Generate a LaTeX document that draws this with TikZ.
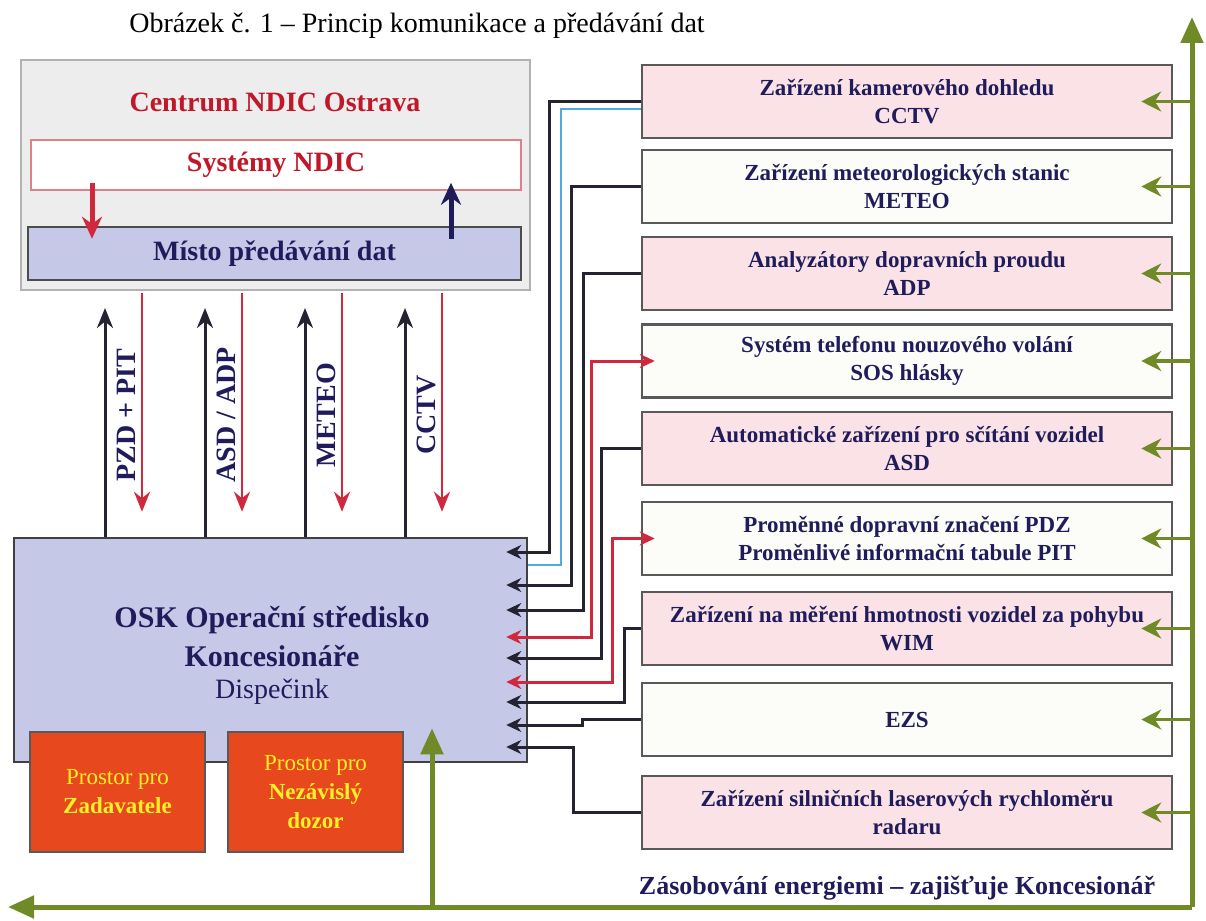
\documentclass[tikz,border=0pt]{standalone}
\usepackage{fontspec}
\setmainfont{Liberation Serif}
\usetikzlibrary{arrows.meta}

\definecolor{ndicred}{RGB}{192,24,40}
\definecolor{navy}{RGB}{32,28,92}
\definecolor{lav}{RGB}{198,200,232}
\definecolor{rose}{RGB}{250,226,230}
\definecolor{offw}{RGB}{252,252,248}
\definecolor{orng}{RGB}{232,72,30}
\definecolor{ylw}{RGB}{255,240,40}
\definecolor{olivegr}{RGB}{112,138,40}
\definecolor{wirered}{RGB}{208,40,60}
\definecolor{wireblk}{RGB}{35,35,50}
\definecolor{cctvblue}{RGB}{80,170,220}

\begin{document}
\begin{tikzpicture}[x=1pt,y=-1pt]
	\useasboundingbox (0,0) rectangle (1206,920);
	
	% --- parametry ---
	\newcommand{\Fbig}{\fontsize{28}{32}\selectfont}
	\newcommand{\Fosk}{\fontsize{30}{34}\selectfont}
	\newcommand{\Fdev}{\fontsize{23}{28}\selectfont}
	\newcommand{\Froom}{\fontsize{23}{29}\selectfont}
	\newcommand{\Fpow}{\fontsize{26}{30}\selectfont}
	
	% --- zarizeni (stred y / vypln / text) ---
	\def\devs{101.5/rose/{Zařízení kamerového dohledu\\CCTV},
		186.5/offw/{Zařízení meteorologických stanic\\METEO},
		273.5/rose/{Analyzátory dopravních proudu\\ADP},
		361/offw/{Systém telefonu nouzového volání\\SOS hlásky},
		448.5/rose/{Automatické zařízení pro sčítání vozidel\\ASD},
		538.5/offw/{Proměnné dopravní značení PDZ\\Proměnlivé informační tabule PIT},
		628.5/rose/{Zařízení na měření hmotnosti vozidel za pohybu\\WIM},
		719.5/offw/{EZS},
		812.5/rose/{Zařízení silničních laserových rychloměru\\radaru}}
	
	% styly
	\tikzset{
		frame/.style  = {draw=black!30, line width=2pt, fill=black!7, minimum width=509pt, minimum height=230pt, inner sep=0pt},
		sysbox/.style = {draw=ndicred!55, line width=1.5pt, fill=white, minimum width=490pt, minimum height=50pt, inner sep=0pt, font=\Fbig\bfseries, text=ndicred},
		dtbox/.style  = {draw=black!70, line width=2.5pt, fill=lav, minimum width=493pt, minimum height=53pt, inner sep=0pt, font=\Fbig\bfseries, text=navy},
		oskbox/.style = {draw=black!75, line width=2.5pt, fill=lav, minimum width=513pt, minimum height=224pt, inner sep=0pt},
		room/.style   = {draw=black!65, line width=2.5pt, fill=orng, minimum width=175pt, minimum height=120pt, inner sep=0pt, align=center, text=ylw, font=\Froom},
		dev/.style    = {draw=black!65, line width=2.5pt, minimum width=530pt, minimum height=73pt, inner sep=0pt, align=center, text=navy, font=\Fdev\bfseries},
		vlab/.style   = {rotate=90, text=navy, font=\Fbig\bfseries},
		upar/.style   = {draw=wireblk, line width=3pt, -{Stealth[length=20pt,width=16pt]}},
		dnar/.style   = {draw=wirered, line width=2.5pt, -{Stealth[length=20pt,width=16pt]}},
		fat/.style    = {line width=5pt, -{Stealth[length=22pt,width=20pt]}},
		wire/.style   = {draw=wireblk, line width=3pt, shorten >=-22pt, -{Stealth[length=15pt,width=14pt]}},
		wirer/.style  = {draw=wirered, line width=3pt, shorten >=-22pt, shorten <=-14pt, {Stealth[length=15pt,width=14pt]}-{Stealth[length=15pt,width=14pt]}},
		pw/.style     = {draw=olivegr, line width=5pt, -{Triangle[length=26pt,width=22pt]}},
		pwin/.style   = {draw=olivegr, line width=3.5pt, -{Stealth[length=20pt,width=20pt]}},
	}
	
	% titulek
	\node[font=\Fbig] (title) at (417,26) {Obrázek č. 1 – Princip komunikace a předávání dat};
	
	% centrum NDIC
	\node[frame] (ndic) at (275.5,175) {};
	\node[font=\Fbig\bfseries, text=ndicred] (ndicl) at (275,102) {Centrum NDIC Ostrava};
	\node[sysbox] (syst) at (276,165) {Systémy NDIC};
	\node[dtbox] (misto) at (274.5,253.5) {Místo předávání dat};
	\draw[dnar, fat] (syst.south -| 92,0) -- (misto.north -| 92,0) [shorten <=-8pt, shorten >=-13pt];
	\draw[upar, fat, draw=navy] (misto.north -| 451,0) -- (syst.south -| 451,0) [shorten <=-13pt, shorten >=-8pt];
	
	% OSK
	\node[oskbox] (osk) at (270.5,650) {};
	\node[font=\Fosk\bfseries, text=navy] (osk1) at (272,620) {OSK Operační středisko};
	\node[font=\Fosk\bfseries, text=navy] (osk2) at (272,656) {Koncesionáře};
	\node[font=\Fbig, text=navy] (osk3) at (272,692) {Dispečink};
	\node[room] (zad) at (117.5,792) {Prostor pro\\\textbf{Zadavatele}};
	\node[room] (dozor) at (315.5,792) {Prostor pro\\\textbf{Nezávislý}\\\textbf{dozor}};
	
	% toky dat NDIC <-> OSK
	\foreach \x/\lab in {105/{PZD + PIT}, 205/{ASD / ADP}, 305/METEO, 405/CCTV} {
		\draw[upar, shorten >=17pt] (osk.north -| \x,0) -- (ndic.south -| \x,0);
		\draw[dnar, shorten <=2pt, shorten >=25pt] (ndic.south -| \x+37,0) -- (osk.north -| \x+37,0);
		\node[vlab] (l\x) at (\x+21,415) {\lab};
	}
	
	% zarizeni
	\foreach \cy/\fc/\txt [count=\i] in \devs {
		\node[dev, fill=\fc] (b\i) at (907,\cy) {\txt};
	}
	
	% kabely do OSK
	\draw[draw=cctvblue, line width=1.5pt] (b1.west |- 0,109) -| (561,565) -- (osk.east |- 0,565);
	\foreach \i/\xv/\yv/\st in {1/549/552/wire, 2/571/585/wire, 3/583/610/wire, 4/591/637/wirer,
		5/601/658/wire, 6/612/682/wirer, 7/624/702/wire, 8/582/725/wire, 9/573/747/wire} {
		\draw[\st] (b\i.west) -| (\xv,\yv) -- (osk.east |- 0,\yv);
	}
	
	% napajeni
	\coordinate (pwC) at (1192,907);
	\coordinate (pwT) at (1192,17);
	\coordinate (pwL) at (8,907);
	\draw[pw] (pwC) -- (pwT);
	\draw[pw] (pwC) -- (pwL);
	\draw[pw, shorten >=-35pt] (pwC -| 432,0) -- (osk.south -| 432,0);
	\foreach \i in {1,...,9} {
		\draw[pwin] (b\i.east -| pwC) -- ([xshift=-32pt]b\i.east);
	}
	\node[font=\Fpow\bfseries, text=navy] (pwtxt) at (897,888) {Zásobování energiemi – zajišťuje Koncesionář};
	
\end{tikzpicture}
\end{document}
